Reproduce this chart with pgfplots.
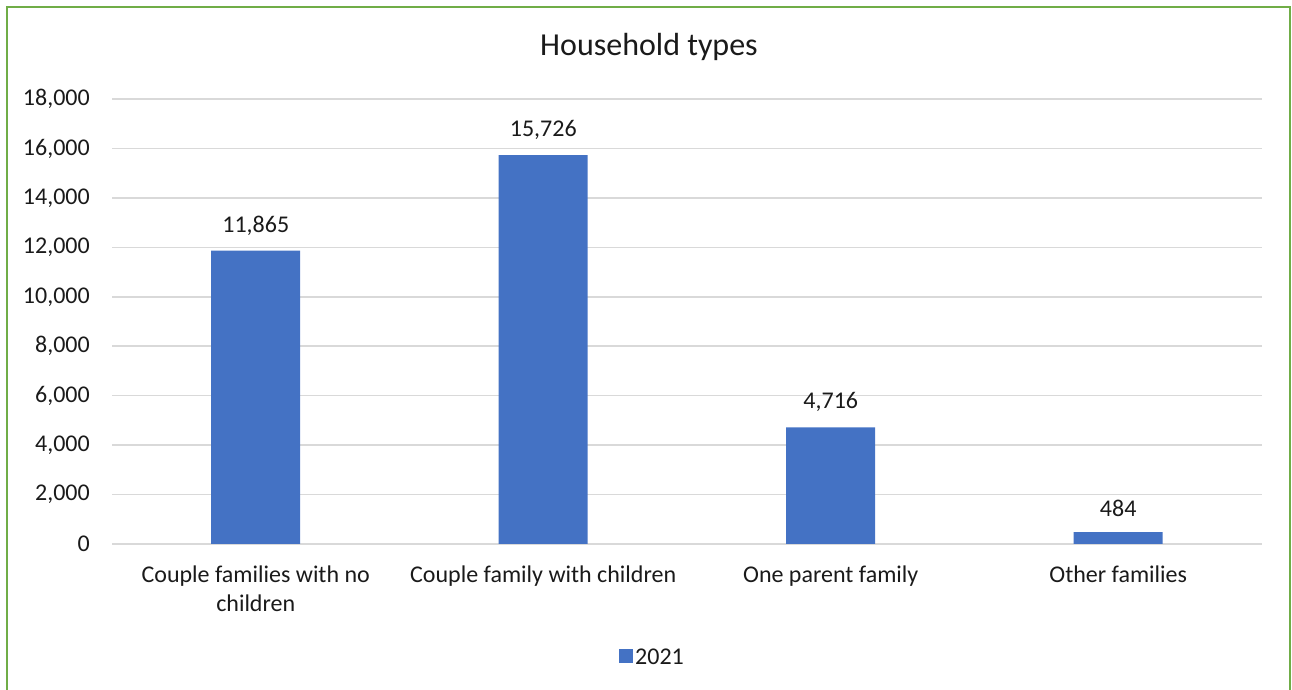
\documentclass[border=0pt]{standalone}
\usepackage{pgfplots}
\pgfplotsset{compat=1.18}
\usepackage{fontspec}
\setmainfont{Carlito}
\definecolor{barblue}{HTML}{4472C4}
\definecolor{gridgray}{HTML}{D9D9D9}
\definecolor{framegreen}{HTML}{70AD47}
\definecolor{txt}{HTML}{1A1A1A}
\begin{document}
\begin{tikzpicture}[x=1pt,y=1pt]
\path[use as bounding box] (0,0) rectangle (1292,690);
\draw[framegreen, line width=2pt] (7,-5) -- (7,683) -- (1290,683) -- (1290,-5);
\node[font=\fontsize{32}{38}\selectfont, text=txt] at (649,643) {Household types};
\begin{axis}[
  at={(112pt,146pt)}, anchor=south west,
  scale only axis, width=1150pt, height=445pt,
  xmin=-0.5, xmax=3.5, ymin=0, ymax=18000,
  ytick={0,2000,...,18000},
  scaled y ticks=false,
  xtick=data,
  xticklabels={{Couple families with no\\children}, Couple family with children, One parent family, Other families},
  ymajorgrids, grid style={gridgray, line width=1.5pt},
  axis line style={draw=none},
  major tick length=0pt,
  tick label style={font=\fontsize{24}{29}\selectfont, text=txt},
  yticklabel style={inner sep=0pt, xshift=-22pt},
  xticklabel style={inner sep=0pt, yshift=-22pt, align=center},
  /pgf/number format/.cd, 1000 sep={,}, assume math mode=true,
  /pgfplots/.cd,
  ybar, bar width=89pt,
  nodes near coords,
  every node near coord/.append style={font=\fontsize{24}{29}\selectfont, text=txt, yshift=12pt},
  legend style={at={(0.470,-0.256)}, anchor=center, draw=none, font=\fontsize{24}{29}\selectfont, text=txt},
  legend image code/.code={\fill[barblue] (0pt,-5pt) rectangle (14pt,9pt);},
]
\addplot[fill=barblue, draw=none] coordinates {(0,11865) (1,15726) (2,4716) (3,484)};
\addlegendentry{2021}
\end{axis}
\end{tikzpicture}
\end{document}
